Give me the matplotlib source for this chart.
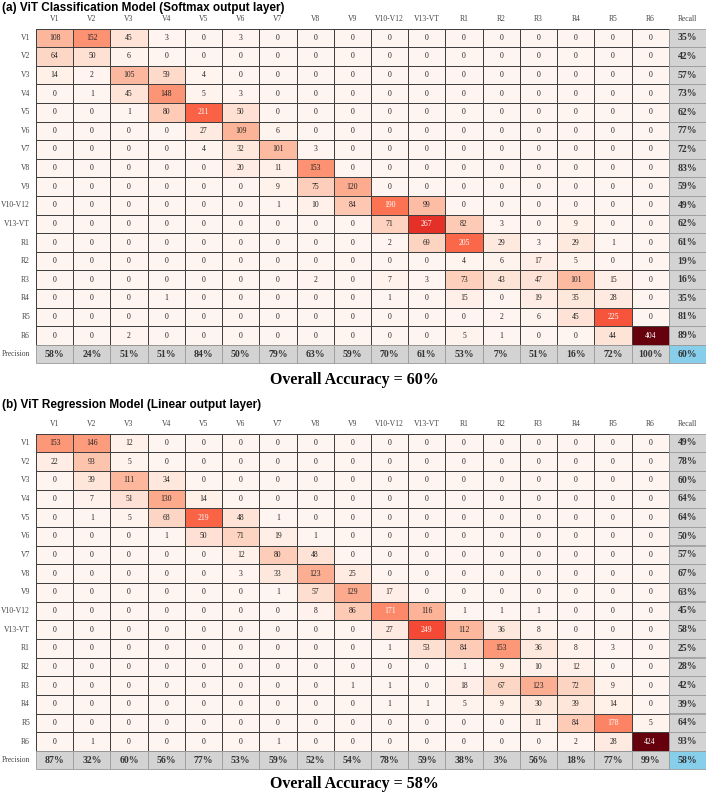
import numpy as np
import matplotlib.pyplot as plt
from matplotlib.patches import Rectangle

labels = ["V1", "V2", "V3", "V4", "V5", "V6", "V7", "V8", "V9",
          "V10-V12", "V13-VT", "R1", "R2", "R3", "R4", "R5", "R6"]

# (a) classification model, rows = true, cols = predicted
conf_a = [
    [108, 152, 45, 3, 0, 3, 0, 0, 0, 0, 0, 0, 0, 0, 0, 0, 0],
    [64, 50, 6, 0, 0, 0, 0, 0, 0, 0, 0, 0, 0, 0, 0, 0, 0],
    [14, 2, 105, 59, 4, 0, 0, 0, 0, 0, 0, 0, 0, 0, 0, 0, 0],
    [0, 1, 45, 148, 5, 3, 0, 0, 0, 0, 0, 0, 0, 0, 0, 0, 0],
    [0, 0, 1, 80, 211, 50, 0, 0, 0, 0, 0, 0, 0, 0, 0, 0, 0],
    [0, 0, 0, 0, 27, 109, 6, 0, 0, 0, 0, 0, 0, 0, 0, 0, 0],
    [0, 0, 0, 0, 4, 32, 101, 3, 0, 0, 0, 0, 0, 0, 0, 0, 0],
    [0, 0, 0, 0, 0, 20, 11, 153, 0, 0, 0, 0, 0, 0, 0, 0, 0],
    [0, 0, 0, 0, 0, 0, 9, 75, 120, 0, 0, 0, 0, 0, 0, 0, 0],
    [0, 0, 0, 0, 0, 0, 1, 10, 84, 190, 99, 0, 0, 0, 0, 0, 0],
    [0, 0, 0, 0, 0, 0, 0, 0, 0, 71, 267, 82, 3, 0, 9, 0, 0],
    [0, 0, 0, 0, 0, 0, 0, 0, 0, 2, 69, 205, 29, 3, 29, 1, 0],
    [0, 0, 0, 0, 0, 0, 0, 0, 0, 0, 0, 4, 6, 17, 5, 0, 0],
    [0, 0, 0, 0, 0, 0, 0, 2, 0, 7, 3, 73, 43, 47, 101, 15, 0],
    [0, 0, 0, 1, 0, 0, 0, 0, 0, 1, 0, 15, 0, 19, 35, 28, 0],
    [0, 0, 0, 0, 0, 0, 0, 0, 0, 0, 0, 0, 2, 6, 45, 225, 0],
    [0, 0, 2, 0, 0, 0, 0, 0, 0, 0, 0, 5, 1, 0, 0, 44, 404],
]
recall_a = [35, 42, 57, 73, 62, 77, 72, 83, 59, 49, 62, 61, 19, 16, 35, 81, 89]
precision_a = [58, 24, 51, 51, 84, 50, 79, 63, 59, 70, 61, 53, 7, 51, 16, 72, 100]
overall_a = 60

# (b) regression model
conf_b = [
    [153, 146, 12, 0, 0, 0, 0, 0, 0, 0, 0, 0, 0, 0, 0, 0, 0],
    [22, 93, 5, 0, 0, 0, 0, 0, 0, 0, 0, 0, 0, 0, 0, 0, 0],
    [0, 39, 111, 34, 0, 0, 0, 0, 0, 0, 0, 0, 0, 0, 0, 0, 0],
    [0, 7, 51, 130, 14, 0, 0, 0, 0, 0, 0, 0, 0, 0, 0, 0, 0],
    [0, 1, 5, 68, 219, 48, 1, 0, 0, 0, 0, 0, 0, 0, 0, 0, 0],
    [0, 0, 0, 1, 50, 71, 19, 1, 0, 0, 0, 0, 0, 0, 0, 0, 0],
    [0, 0, 0, 0, 0, 12, 80, 48, 0, 0, 0, 0, 0, 0, 0, 0, 0],
    [0, 0, 0, 0, 0, 3, 33, 123, 25, 0, 0, 0, 0, 0, 0, 0, 0],
    [0, 0, 0, 0, 0, 0, 1, 57, 129, 17, 0, 0, 0, 0, 0, 0, 0],
    [0, 0, 0, 0, 0, 0, 0, 8, 86, 171, 116, 1, 1, 1, 0, 0, 0],
    [0, 0, 0, 0, 0, 0, 0, 0, 0, 27, 249, 112, 36, 8, 0, 0, 0],
    [0, 0, 0, 0, 0, 0, 0, 0, 0, 1, 53, 84, 153, 36, 8, 3, 0],
    [0, 0, 0, 0, 0, 0, 0, 0, 0, 0, 0, 1, 9, 10, 12, 0, 0],
    [0, 0, 0, 0, 0, 0, 0, 0, 1, 1, 0, 18, 67, 123, 72, 9, 0],
    [0, 0, 0, 0, 0, 0, 0, 0, 0, 1, 1, 5, 9, 30, 39, 14, 0],
    [0, 0, 0, 0, 0, 0, 0, 0, 0, 0, 0, 0, 0, 11, 84, 178, 5],
    [0, 1, 0, 0, 0, 0, 1, 0, 0, 0, 0, 0, 0, 0, 2, 28, 424],
]
recall_b = [49, 78, 60, 64, 64, 50, 57, 67, 63, 45, 58, 25, 28, 42, 39, 64, 93]
precision_b = [87, 32, 60, 56, 77, 53, 59, 52, 54, 78, 59, 38, 3, 56, 18, 77, 99]
overall_b = 58

SERIF = ["Liberation Serif", "DejaVu Serif"]
SANS = ["Liberation Sans", "DejaVu Sans"]


def draw_matrix(fig, rect, conf, recall, precision, overall):
    ax = fig.add_axes(rect)
    cm = np.array(conf)
    n = len(labels)
    vmax = cm.max()
    ax.pcolormesh(np.arange(n + 1), np.arange(n + 1), cm, cmap="Reds",
                  vmin=0, vmax=vmax, edgecolors="#404040", linewidth=0.45)
    for i in range(n):
        for j in range(n):
            v = cm[i, j]
            col = "white" if v > 0.39 * vmax else "#222222"
            ax.text(j + 0.5, i + 0.5, str(v), ha="center", va="center",
                    fontsize=5.5, color=col, family=SERIF)

    # recall column / precision row
    for i, r in enumerate(recall):
        ax.add_patch(Rectangle((n, i), 1, 1, fc="#d3d3d3", ec="#9a9a9a", lw=0.6))
        ax.text(n + 0.5, i + 0.5, f"{r}%", ha="center", va="center",
                fontsize=7, fontweight="bold", color="#333333", family=SERIF)
    for j, p in enumerate(precision):
        ax.add_patch(Rectangle((j, n), 1, 1, fc="#d3d3d3", ec="#9a9a9a", lw=0.6))
        ax.text(j + 0.5, n + 0.5, f"{p}%", ha="center", va="center",
                fontsize=7, fontweight="bold", color="#333333", family=SERIF)
    ax.add_patch(Rectangle((n, n), 1, 1, fc="#87ceeb", ec="#9a9a9a", lw=0.6))
    ax.text(n + 0.5, n + 0.5, f"{overall}%", ha="center", va="center",
            fontsize=7, fontweight="bold", color="#333333", family=SERIF)

    for j, lab in enumerate(labels + ["Recall"]):
        ax.text(j + 0.5, -0.5, lab, ha="center", va="center", fontsize=5.5,
                color="#444444", family=SERIF, clip_on=False)
    for i, lab in enumerate(labels + ["Precision"]):
        ax.text(-0.16, i + 0.5, lab, ha="right", va="center", fontsize=5.5,
                color="#444444", family=SERIF, clip_on=False)

    ax.set_xlim(0, n + 1)
    ax.set_ylim(n + 1, 0)
    ax.axis("off")
    return ax


W, H = 708, 795
fig = plt.figure(figsize=(W / 100, H / 100), dpi=100)

# grid placed in pixel coords
draw_matrix(fig, [36 / W, 1 - 363.5 / H, 670 / W, 335 / H],
            conf_a, recall_a, precision_a, overall_a)
draw_matrix(fig, [36 / W, 1 - 769.5 / H, 670 / W, 336 / H],
            conf_b, recall_b, precision_b, overall_b)

fig.text(2 / W, 1 - 8 / H, "(a) ViT Classification Model (Softmax output layer)",
         ha="left", va="center", fontsize=8.5, fontweight="bold", family=SANS)
fig.text(2 / W, 1 - 405 / H, "(b) ViT Regression Model (Linear output layer)",
         ha="left", va="center", fontsize=8.5, fontweight="bold", family=SANS)
fig.text(0.5, 1 - 380 / H, f"Overall Accuracy = {overall_a}%", ha="center",
         va="center", fontsize=11.5, fontweight="bold", family=SERIF)
fig.text(0.5, 1 - 784 / H, f"Overall Accuracy = {overall_b}%", ha="center",
         va="center", fontsize=11.5, fontweight="bold", family=SERIF)

fig.savefig("out.png", dpi=100)
